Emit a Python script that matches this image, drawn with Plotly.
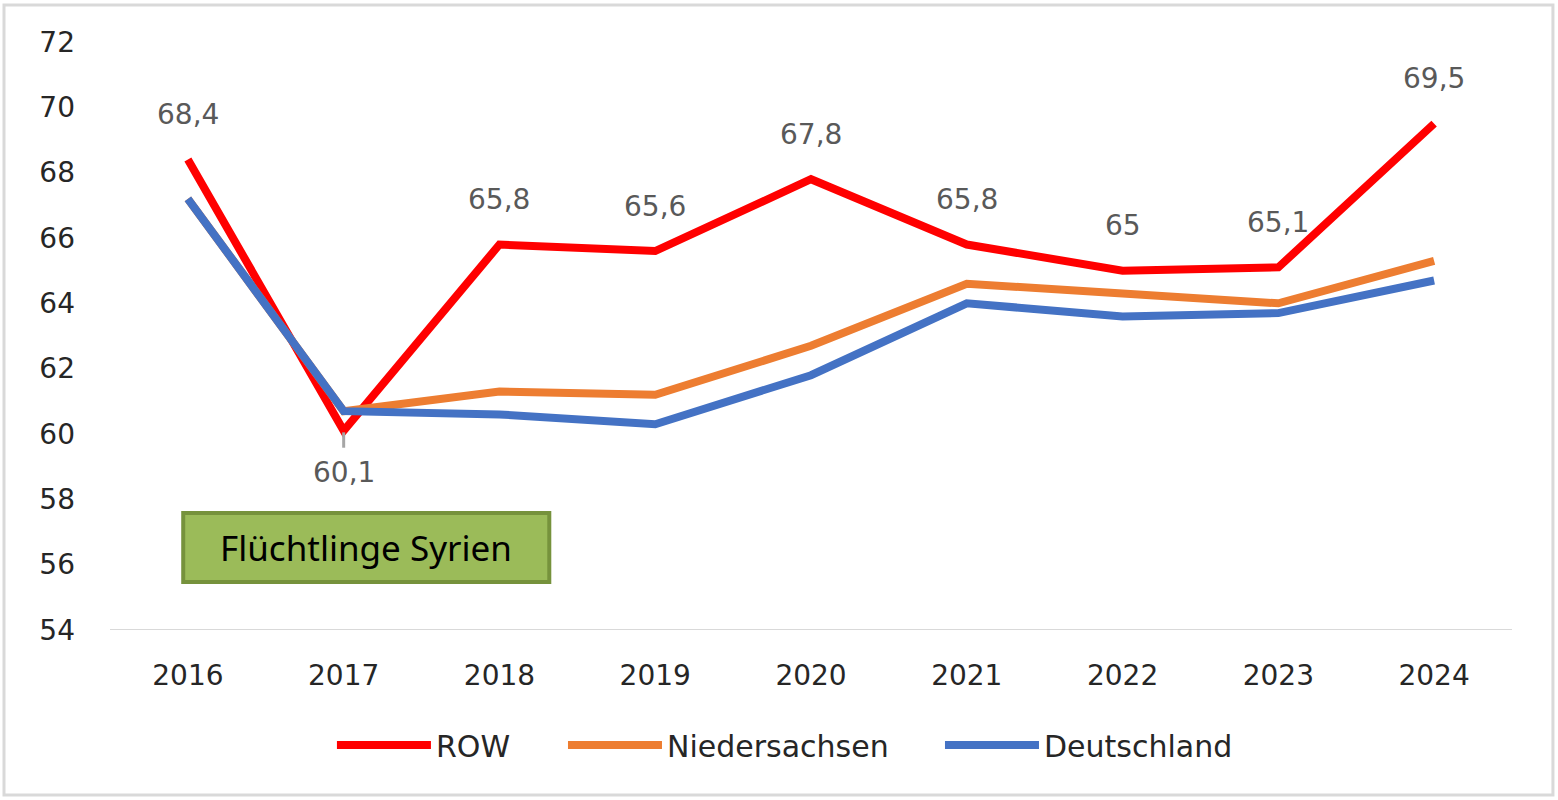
import plotly.graph_objects as go

years = [2016, 2017, 2018, 2019, 2020, 2021, 2022, 2023, 2024]
row = [68.4, 60.1, 65.8, 65.6, 67.8, 65.8, 65.0, 65.1, 69.5]
niedersachsen = [67.2, 60.7, 61.3, 61.2, 62.7, 64.6, 64.3, 64.0, 65.3]
deutschland = [67.2, 60.7, 60.6, 60.3, 61.8, 64.0, 63.6, 63.7, 64.7]
row_labels = ["68,4", "60,1", "65,8", "65,6", "67,8", "65,8", "65", "65,1", "69,5"]
y_ticks = [54, 56, 58, 60, 62, 64, 66, 68, 70, 72]
box_text = "Flüchtlinge Syrien"

fig = go.Figure()
fig.add_trace(go.Scatter(x=years, y=row, mode="lines", name="ROW", legend="legend",
                         line=dict(color="#FF0000", width=8)))
fig.add_trace(go.Scatter(x=years, y=niedersachsen, mode="lines", name="Niedersachsen",
                         legend="legend2", line=dict(color="#ED7D31", width=8)))
fig.add_trace(go.Scatter(x=years, y=deutschland, mode="lines", name="Deutschland",
                         legend="legend3", line=dict(color="#4472C4", width=8)))

# data labels for ROW
for i, (xv, yv, lab) in enumerate(zip(years, row, row_labels)):
    below = (i == 1)
    fig.add_annotation(x=xv, y=yv, text=lab, showarrow=False,
                       xref="x", yref="y",
                       yshift=-42 if below else 45,
                       font=dict(family="DejaVu Sans", size=28, color="#595959"))

# leader line for the 60,1 label
fig.add_shape(type="line", xref="x", yref="y", x0=years[1], x1=years[1],
              y0=row[1] - 0.05, y1=row[1] - 0.52,
              line=dict(color="#A6A6A6", width=3))

# green annotation box
fig.add_shape(type="rect", xref="x", yref="y", x0=2015.97, x1=2018.32,
              y0=55.47, y1=57.58, fillcolor="#9BBB59",
              line=dict(color="#76923C", width=4), layer="above")
fig.add_annotation(x=(2015.97 + 2018.32) / 2, y=(55.47 + 57.58) / 2, text=box_text,
                   showarrow=False, xref="x", yref="y",
                   font=dict(family="Noto Sans", size=35, color="#000000"))

# outer border
fig.add_shape(type="rect", xref="paper", yref="paper",
              x0=-0.0756, x1=1.0292, y0=-0.2806, y1=1.0629,
              line=dict(color="#D9D9D9", width=3), fillcolor="rgba(0,0,0,0)")

legend_common = dict(orientation="h", xanchor="left", y=-0.1956, yanchor="middle",
                     font=dict(family="DejaVu Sans", size=30, color="#262626"),
                     itemwidth=94, bgcolor="rgba(0,0,0,0)")

fig.update_layout(
    width=1558, height=800, autosize=False,
    margin=dict(l=110, r=46, t=42, b=170, autoexpand=False),
    paper_bgcolor="white", plot_bgcolor="white",
    showlegend=True,
    legend=dict(x=0.1583, **legend_common),
    legend2=dict(x=0.3231, **legend_common),
    legend3=dict(x=0.5920, **legend_common),
    xaxis=dict(range=[2015.5, 2024.5], tickmode="array", tickvals=years,
               ticktext=[str(y) for y in years], showgrid=False, zeroline=False,
               showline=False, ticks="", ticklabelstandoff=26, tickangle=0,
               tickfont=dict(family="DejaVu Sans", size=28, color="#262626")),
    yaxis=dict(range=[54, 72], tickmode="array", tickvals=y_ticks,
               showgrid=False, zeroline=False, showline=False, ticks="",
               ticklabelstandoff=34,
               tickfont=dict(family="DejaVu Sans", size=28, color="#262626")),
)

# x-axis baseline
fig.add_shape(type="line", xref="paper", yref="y", x0=0, x1=1, y0=54, y1=54,
              line=dict(color="#D9D9D9", width=2), layer="below")

fig.write_html("out.html", config={"displayModeBar": False},
               post_script="document.body.style.margin='0';document.body.style.overflow='hidden';")
